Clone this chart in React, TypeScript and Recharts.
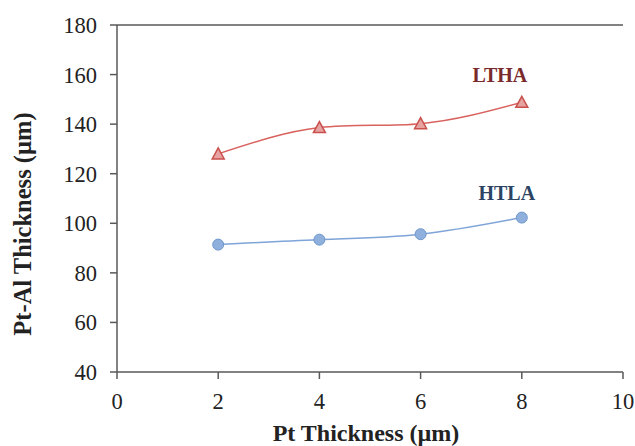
import React from "react";
import { LineChart, Line, XAxis, YAxis, LabelList, ReferenceLine } from "recharts";

const ptThickness = [2, 4, 6, 8];
const lthaValues = [128, 138.6, 140.2, 148.8];
const htlaValues = [91.4, 93.4, 95.6, 102.3];
const xTicks = [0, 2, 4, 6, 8, 10];
const yTicks = [40, 60, 80, 100, 120, 140, 160, 180];
const seriesNames = { ltha: "LTHA", htla: "HTLA" };
const xTitle = "Pt Thickness (µm)";
const yTitle = "Pt-Al Thickness (µm)";

const data = ptThickness.map((x, i) => ({ x, ltha: lthaValues[i], htla: htlaValues[i] }));

const FONT = '"Liberation Serif", "Times New Roman", Times, serif';
const AXIS = "#595959";

const Triangle = (props: any) => {
  const { cx, cy } = props;
  if (cx == null || cy == null) return null;
  const h = 10;
  const w = 12;
  return (
    <path
      d={`M${cx},${cy - h / 2 - 1} L${cx + w / 2},${cy + h / 2} L${cx - w / 2},${cy + h / 2} Z`}
      fill="#E6A3A1"
      stroke="#C9504D"
      strokeWidth={1.5}
    />
  );
};

const Circle = (props: any) => {
  const { cx, cy } = props;
  if (cx == null || cy == null) return null;
  return <circle cx={cx} cy={cy} r={5.5} fill="#8FB0DC" stroke="#6D96CC" strokeWidth={1} />;
};

const makeEndLabel = (text: string, color: string, dx: number, dy: number) => (props: any) => {
  const { x, y, index } = props;
  if (index !== ptThickness.length - 1) return null;
  return (
    <text x={x + dx} y={y + dy} textAnchor="middle" fontFamily={FONT} fontWeight="bold" fontSize={20} fill={color}>
      {text}
    </text>
  );
};

export default function App() {
  return (
    <div style={{ position: "absolute", left: 0, top: 0, width: 635, height: 446, background: "#fff", fontFamily: FONT }}>
      <LineChart width={635} height={446} data={data} margin={{ top: 25, right: 12, left: 0, bottom: 0 }} style={{ fontFamily: FONT }}>
        <XAxis
          dataKey="x"
          type="number"
          domain={[0, 10]}
          ticks={xTicks}
          interval={0}
          height={74}
          tickSize={7}
          tickMargin={14}
          stroke={AXIS}
          strokeWidth={1.5}
          tick={{ fill: "#222", fontSize: 22.5, fontFamily: FONT }}
          label={{
            content: () => (
              <text x={366} y={441} textAnchor="middle" fontFamily={FONT} fontWeight="bold" fontSize={24} fill="#222">
                {xTitle}
              </text>
            ),
          }}
        />
        <YAxis
          type="number"
          domain={[40, 180]}
          ticks={yTicks}
          interval={0}
          width={117}
          tickSize={7}
          tickMargin={13}
          stroke={AXIS}
          strokeWidth={1.5}
          tick={{ fill: "#222", fontSize: 22.5, fontFamily: FONT }}
          label={{
            content: () => (
              <text
                x={22}
                y={224}
                transform="rotate(-90,22,224)"
                textAnchor="middle"
                dominantBaseline="central"
                fontFamily={FONT}
                fontWeight="bold"
                fontSize={24.5}
                fill="#222"
              >
                {yTitle}
              </text>
            ),
          }}
        />
        <YAxis yAxisId="right" orientation="right" type="number" domain={[40, 180]} width={0} tick={false} tickLine={false} stroke={AXIS} strokeWidth={1.5} />
        <ReferenceLine y={180} stroke={AXIS} strokeWidth={1.5} />
        <Line
          dataKey="ltha"
          type="natural"
          stroke="#D9625F"
          strokeWidth={1.5}
          dot={<Triangle />}
          activeDot={false}
          isAnimationActive={false}
        >
          <LabelList dataKey="ltha" content={makeEndLabel(seriesNames.ltha, "#7A2A2A", -22, -20)} />
        </Line>
        <Line
          dataKey="htla"
          type="natural"
          stroke="#7EA4D8"
          strokeWidth={1.5}
          dot={<Circle />}
          activeDot={false}
          isAnimationActive={false}
        >
          <LabelList dataKey="htla" content={makeEndLabel(seriesNames.htla, "#2C4464", -15, -18)} />
        </Line>
      </LineChart>
    </div>
  );
}
